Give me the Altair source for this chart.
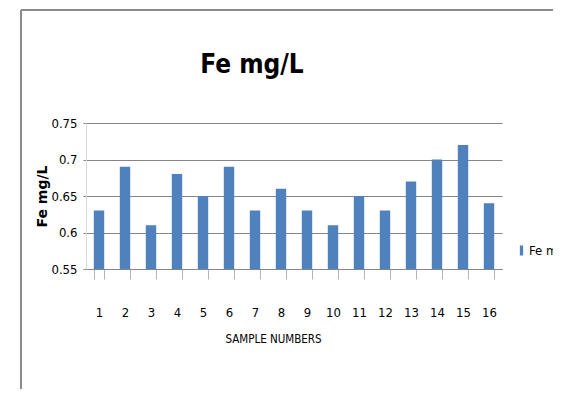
import altair as alt
import pandas as pd

samples = ["1", "2", "3", "4", "5", "6", "7", "8", "9", "10", "11", "12", "13", "14", "15", "16"]
fe = [0.63, 0.69, 0.61, 0.68, 0.65, 0.69, 0.63, 0.66, 0.63, 0.61, 0.65, 0.63, 0.67, 0.70, 0.72, 0.64]
series_name = "Fe mg/L"
y_ticks = [0.55, 0.60, 0.65, 0.70, 0.75]

df = pd.DataFrame({"sample": samples, "fe": fe, "series": [series_name] * len(samples)})
one = pd.DataFrame({"a": [0]})

FONT = "Liberation Sans Narrow, DejaVu Sans Condensed, sans-serif"

bars = alt.Chart(df).mark_bar(clip=True).encode(
    x=alt.X(
        "sample:O",
        sort=samples,
        scale=alt.Scale(paddingInner=0.6, paddingOuter=0.3),
        axis=alt.Axis(
            title="SAMPLE NUMBERS",
            labelAngle=0,
            labelFont=FONT,
            labelFontSize=13,
            labelColor="#000000",
            labelPadding=27,
            tickBand="extent",
            tickSize=10,
            tickWidth=1,
            tickColor="#b5b5b5",
            domainColor="#868686",
            grid=False,
            titleFont=FONT,
            titleFontSize=11.5,
            titleFontWeight="normal",
            titleColor="#000000",
            titleX=187,
            titleY=70,
            titleBaseline="middle",
        ),
    ),
    y=alt.Y(
        "fe:Q",
        scale=alt.Scale(domain=[0.55, 0.75], zero=False, nice=False),
        axis=alt.Axis(
            title="Fe mg/L",
            values=y_ticks,
            format=".2~f",
            labelFont=FONT,
            labelFontSize=13,
            labelColor="#000000",
            labelPadding=6,
            tickSize=3,
            tickColor="#868686",
            domainColor="#d9d9d9",
            grid=True,
            gridColor="#868686",
            titleFont="DejaVu Sans",
            titleFontSize=14,
            titleFontWeight="bold",
            titleColor="#000000",
            titleX=-37,
            titleY=73,
        ),
    ),
    color=alt.Color(
        "series:N",
        scale=alt.Scale(range=["#4F81BD"]),
        legend=alt.Legend(
            title=None,
            orient="none",
            legendX=429,
            legendY=121,
            symbolType="M-0.33,-1L0.33,-1L0.33,1L-0.33,1Z",
            symbolSize=100,
            symbolStrokeWidth=0,
            labelFont=FONT,
            labelFontSize=13,
            labelColor="#000000",
            labelOffset=1,
        ),
    ),
)

frame_left = alt.Chart(one).mark_rule(color="#8c8c8c", strokeWidth=2).encode(
    x=alt.value(-65), y=alt.value(-113), y2=alt.value(290)
)
frame_top = alt.Chart(one).mark_rule(color="#8c8c8c", strokeWidth=2).encode(
    x=alt.value(-65), x2=alt.value(480), y=alt.value(-113)
)

chart = (
    alt.layer(bars, frame_left, frame_top)
    .properties(
        width=416,
        height=146,
        autosize="none",
        padding={"left": 78, "top": 115, "right": 51, "bottom": 120},
        title=alt.TitleParams(
            "Fe mg/L",
            font=FONT,
            fontSize=26,
            fontWeight="bold",
            color="#000000",
            anchor="middle",
            dx=-42,
            offset=-69,
        ),
    )
    .configure_view(stroke=None)
)

chart.save("out.html", embed_options={"renderer": "svg", "actions": False})
